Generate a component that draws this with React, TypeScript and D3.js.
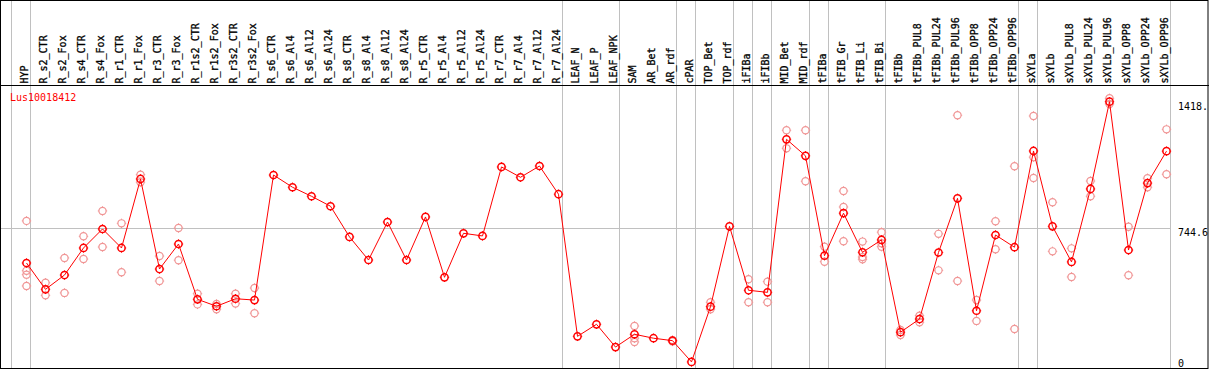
import React from "react";
import * as d3 from "d3";

const title = "Lus10018412";

const categories = [
  "HYP", "R_s2_CTR", "R_s2_Fox", "R_s4_CTR", "R_s4_Fox", "R_r1_CTR", "R_r1_Fox", "R_r3_CTR", "R_r3_Fox",
  "R_r1s2_CTR", "R_r1s2_Fox", "R_r3s2_CTR", "R_r3s2_Fox", "R_s6_CTR", "R_s6_Al4", "R_s6_Al12", "R_s6_Al24",
  "R_s8_CTR", "R_s8_Al4", "R_s8_Al12", "R_s8_Al24", "R_r5_CTR", "R_r5_Al4", "R_r5_Al12", "R_r5_Al24",
  "R_r7_CTR", "R_r7_Al4", "R_r7_Al12", "R_r7_Al24", "LEAF_N", "LEAF_P", "LEAF_NPK", "SAM", "AR_Bet", "AR_rdf",
  "cPAR", "TOP_Bet", "TOP_rdf", "iFIBa", "iFIBb", "MID_Bet", "MID_rdf", "tFIBa", "tFIB_Gr", "tFIB_Li", "tFIB_Bi",
  "tFIBb", "tFIBb_PUL8", "tFIBb_PUL24", "tFIBb_PUL96", "tFIBb_OPP8", "tFIBb_OPP24", "tFIBb_OPP96",
  "sXYLa", "sXYLb", "sXYLb_PUL8", "sXYLb_PUL24", "sXYLb_PUL96", "sXYLb_OPP8", "sXYLb_OPP24", "sXYLb_OPP96",
];

const meanValues = [
  560, 420, 496, 640, 741, 640, 1007, 528, 661,
  367, 330, 370, 363, 1028, 963, 915, 862,
  699, 576, 778, 576, 805, 484, 718, 704,
  1071, 1016, 1076, 926, 170, 234, 113, 181, 160, 147,
  34, 328, 755, 415, 404, 1218, 1130, 599, 825, 617, 683,
  192, 262, 616, 904, 306, 709, 644,
  1156, 755, 566, 954, 1418, 629, 985, 1155,
];

const replicateValues: number[][] = [
  [784, 519, 498, 438], [455, 388], [587, 401], [702, 581], [837, 645], [771, 511], [1030, 990], [597, 464], [746, 575],
  [397, 340], [342, 314], [397, 344], [427, 293], [], [], [], [],
  [], [], [], [], [], [], [], [],
  [], [], [], [], [], [], [], [225, 160, 140], [], [150, 143],
  [], [351, 314], [], [474, 351], [461, 351], [1266, 1170], [1266, 995], [647, 567], [943, 858, 676], [674, 592, 580], [724, 665, 647],
  [204, 177], [280, 245], [715, 521], [1346, 464], [363, 252], [782, 633], [1075, 209],
  [1342, 1123, 1012], [883, 622], [638, 486], [996, 915], [1436, 1406], [753, 495], [1011, 963], [1271, 1032],
];

const groupEnds = [-1, 0, 28, 31, 34, 35, 37, 38, 39, 41, 42, 45, 52, 53, 60];

const axisLabels = ["1418.", "744.6", "0"];
const axisValues = [1418, 744.6, 0];
const gridValues = [744.6];

const W = 1209;
const H = 370;
const FONT = "'DejaVu Sans Mono', 'Liberation Mono', monospace";

function Marker({ cx, cy, color, sw }: { cx: number; cy: number; color: string; sw: number }) {
  const r = 3.6;
  const t = 1.1;
  const p = `M${cx},${cy - r - t}V${cy - r}M${cx},${cy + r}V${cy + r + t}M${cx - r - t},${cy}H${cx - r}M${cx + r},${cy}H${cx + r + t}`;
  return (
    <g>
      <circle cx={cx} cy={cy} r={r} fill="none" stroke={color} strokeWidth={sw} />
      <path d={p} stroke={color} strokeWidth={1} fill="none" />
    </g>
  );
}

export default function App() {
  const x = d3.scaleLinear().domain([0, categories.length - 1]).range([26.5, 26.5 + 19 * (categories.length - 1)]);
  const y = d3.scaleLinear().domain([0, 1418]).range([368.3, 101.7]);
  const line = d3
    .line<number>()
    .x((_, i) => x(i))
    .y((d) => y(d));

  return (
    <svg width={W} height={H} style={{ position: "absolute", left: 0, top: 0 }} xmlns="http://www.w3.org/2000/svg">
      <rect x={0} y={0} width={W} height={H} fill="#fff" />
      {groupEnds.map((g) => (
        <line key={"g" + g} x1={x(g) + 4} x2={x(g) + 4} y1={0} y2={368} stroke="#c0c0c0" strokeWidth={1} />
      ))}
      {gridValues.map((v) => (
        <line key={"h" + v} x1={1} x2={x(categories.length - 1) + 4} y1={Math.round(y(v)) + 0.5} y2={Math.round(y(v)) + 0.5} stroke="#c0c0c0" strokeWidth={1} />
      ))}
      <rect x={0.5} y={0.5} width={1207.5} height={368} fill="none" stroke="#000" strokeWidth={1} />
      <line x1={0} x2={W} y1={85.5} y2={85.5} stroke="#000" strokeWidth={1} />
      {categories.map((c, i) => (
        <text
          key={c}
          transform={`translate(${x(i) + 1},83.5) rotate(-90)`}
          fontFamily={FONT}
          fontSize={10}
          fill="#000"
          stroke="#000"
          strokeWidth={0.3}
        >
          {c}
        </text>
      ))}
      <text x={10} y={101} fontFamily={FONT} fontSize={10} fill="#ff0000">
        {title}
      </text>
      {axisLabels.map((l, i) => (
        <text key={l} x={1178} y={Math.min(y(axisValues[i]) + 8, 367)} fontFamily={FONT} fontSize={10} fill="#000">
          {l}
        </text>
      ))}
      {replicateValues.map((reps, i) =>
        reps.map((v, j) => <Marker key={`r${i}-${j}`} cx={x(i)} cy={y(v)} color="#f09595" sw={1.2} />)
      )}
      <path d={line(meanValues) || ""} fill="none" stroke="#ff0000" strokeWidth={1} />
      {meanValues.map((v, i) => (
        <Marker key={"m" + i} cx={x(i)} cy={y(v)} color="#ff0000" sw={1.5} />
      ))}
    </svg>
  );
}
